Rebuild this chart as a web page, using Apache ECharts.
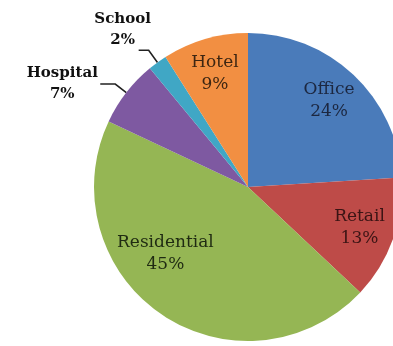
<!DOCTYPE html>
<html>
<head>
<meta charset="utf-8">
<script src="https://cdn.jsdelivr.net/npm/echarts@6/dist/echarts.min.js"></script>
<style>
  html, body { margin: 0; padding: 0; background: #fff; }
  #chart { width: 393px; height: 346px; }
</style>
</head>
<body>
<div id="chart"></div>
<script>
// Building floor-area mix by use type (percent)
const categories = ['Office', 'Retail', 'Residential', 'Hospital', 'School', 'Hotel'];
const shares = [24, 13, 45, 7, 2, 9];
const sliceColors = ['#4A7BBA', '#BE4B48', '#95B654', '#7E59A1', '#40A7C5', '#F28F42'];
const insideTextColors = ['#1c2740', '#3a1414', '#1f2a12', null, null, '#3d2612'];
const outsideNames = ['Hospital', 'School'];

const CENTER = [248, 187];
const R = 154;

// small label nudges (px) so text sits where it reads best
const labelNudge = {
  Residential: [-16, -31],
  School: [16, -21]
};

function nudge(params) {
  const n = labelNudge[categories[params.dataIndex]];
  return n ? { dx: n[0], dy: n[1] } : {};
}

const chart = echarts.init(document.getElementById('chart'), null, { renderer: 'canvas' });

const outsideTextStyle = {
  fontFamily: 'DejaVu Serif',
  fontWeight: 'bold',
  fontSize: 15,
  lineHeight: 21,
  color: '#111',
  align: 'center'
};

chart.setOption({
  animation: false,
  backgroundColor: '#fff',
  series: [
    {
      // the slices, with leader-line labels for the thin ones
      type: 'pie',
      center: CENTER,
      radius: [0, R],
      startAngle: 90,
      clockwise: true,
      avoidLabelOverlap: false,
      silent: true,
      label: {
        position: 'outside',
        formatter: p => '{n|' + p.name + '}\n{n|' + p.value + '%}',
        distanceToLabelLine: 2,
        rich: {
          n: Object.assign({ width: 72 }, outsideTextStyle)
        }
      },
      labelLine: {
        length: 14,
        length2: 15,
        smooth: false,
        lineStyle: { color: '#222', width: 1.6 }
      },
      labelLayout: nudge,
      data: categories.map((name, i) => {
        const out = outsideNames.includes(name);
        return {
          name,
          value: shares[i],
          itemStyle: { color: sliceColors[i] },
          label: name === 'School'
            ? { show: out, rich: { n: Object.assign({ width: 60 }, outsideTextStyle) } }
            : { show: out },
          labelLine: name === 'School' ? { show: out, length: 15, length2: 10 } : { show: out }
        };
      })
    },
    {
      // transparent ring carrying the in-slice labels
      type: 'pie',
      center: CENTER,
      radius: [R * 0.5, R],
      startAngle: 90,
      clockwise: true,
      avoidLabelOverlap: false,
      silent: true,
      itemStyle: { color: 'rgba(0,0,0,0)' },
      label: {
        position: 'inside',
        formatter: '{b}\n{c}%',
        fontFamily: 'DejaVu Serif',
        fontSize: 17,
        lineHeight: 22
      },
      labelLine: { show: false },
      labelLayout: nudge,
      data: categories.map((name, i) => {
        const out = outsideNames.includes(name);
        return {
          name,
          value: shares[i],
          label: { show: !out, color: insideTextColors[i] || '#111' }
        };
      })
    }
  ]
});
</script>
</body>
</html>
